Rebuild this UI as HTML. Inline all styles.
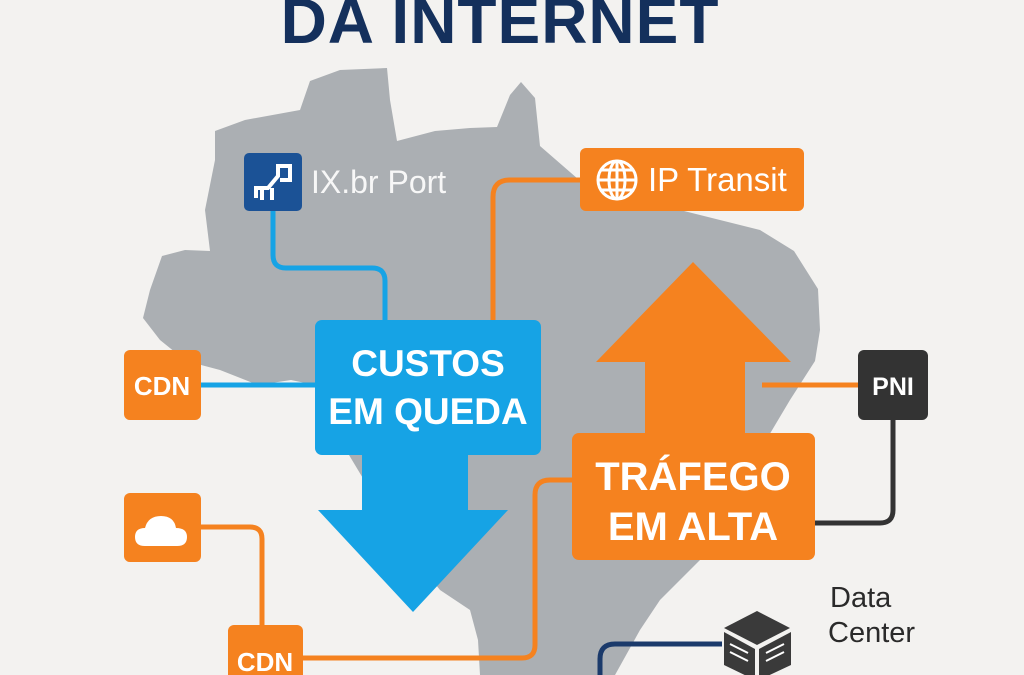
<!DOCTYPE html>
<html><head><meta charset="utf-8"><style>
html,body{margin:0;padding:0;background:#f3f2f0;}
svg{display:block;}
text{font-family:"Liberation Sans",sans-serif;}
</style></head><body>
<svg width="1024" height="675" viewBox="0 0 1024 675" xmlns="http://www.w3.org/2000/svg">
<rect width="1024" height="675" fill="#f3f2f0"/>
<text x="500" y="43" text-anchor="middle" font-size="64" font-weight="bold" fill="#14305c" letter-spacing="1">DA INTERNET</text>
<path d="M310,81 L340,70 L387,68 L390,100 L397,141 L435,131 L470,128 L497,127 L510,95 L521,82 L535,98 L540,146 L578,179 L640,200 L700,215 L760,230 L794,251 L818,289 L820,330 L815,361 L790,400 L765,442 L755,509 L700,560 L660,600 L640,630 L615,675 L480,675 L478,640 L470,610 L440,590 L400,540 L340,440 L315,385 L291,380 L258,385 L220,370 L186,361 L160,340 L143,318 L150,290 L162,256 L185,250 L210,251 L205,210 L215,160 L215,131 L245,120 L300,110 Z" fill="#abafb3"/>
<g fill="none" stroke-width="5">
<path d="M273,211 L273,255 Q273,268 286,268 L372,268 Q385,268 385,281 L385,322" stroke="#16a3e5"/>
<path d="M201,385 L318,385" stroke="#16a3e5"/>
<path d="M580,180 L510,180 Q493,180 493,197 L493,322" stroke="#f5821f"/>
<path d="M201,527 L250,527 Q262,527 262,539 L262,627" stroke="#f5821f"/>
<path d="M303,658 L522,658 Q535,658 535,645 L535,495 Q535,480 550,480 L574,480" stroke="#f5821f"/>
<path d="M762,385 L860,385" stroke="#f5821f"/>
<path d="M893,418 L893,510 Q893,523 880,523 L813,523" stroke="#333"/>
<path d="M722,644 L615,644 Q600,644 600,659 L600,675" stroke="#1b3a6b"/>
</g>
<path d="M362,450 L468,450 L468,510 L508,510 L413,612 L318,510 L362,510 Z" fill="#16a3e5"/>
<rect x="315" y="320" width="226" height="135" rx="7" fill="#16a3e5"/>
<text x="428" y="376" text-anchor="middle" font-size="37" font-weight="bold" fill="#fff">CUSTOS</text>
<text x="428" y="424" text-anchor="middle" font-size="37" font-weight="bold" fill="#fff">EM QUEDA</text>
<path d="M693,262 L791,362 L745,362 L745,440 L645,440 L645,362 L596,362 Z" fill="#f5821f"/>
<rect x="572" y="433" width="243" height="127" rx="7" fill="#f5821f"/>
<text x="693" y="490" text-anchor="middle" font-size="40" font-weight="bold" fill="#fff">TRÁFEGO</text>
<text x="693" y="540" text-anchor="middle" font-size="40" font-weight="bold" fill="#fff">EM ALTA</text>
<rect x="244" y="153" width="58" height="58" rx="5" fill="#1b5296"/>
<path d="M256,198 L256,188 L268,188 L278,176 L278,166 L290,166 L290,180 L280,180 M262,188 L262,200 M272,188 L272,200" fill="none" stroke="#fff" stroke-width="4"/>
<text x="311" y="193" font-size="32" fill="#f7f7f7">IX.br Port</text>
<rect x="580" y="148" width="224" height="63" rx="6" fill="#f5821f"/>
<g fill="none" stroke="#fff" stroke-width="3"><circle cx="617" cy="180" r="19"/><ellipse cx="617" cy="180" rx="8" ry="19"/><line x1="598" y1="180" x2="636" y2="180"/><line x1="601" y1="170" x2="633" y2="170"/><line x1="601" y1="190" x2="633" y2="190"/><line x1="617" y1="161" x2="617" y2="199"/></g>
<text x="648" y="191" font-size="33" fill="#fff">IP Transit</text>
<rect x="124" y="350" width="77" height="70" rx="6" fill="#f5821f"/>
<text x="162" y="395" text-anchor="middle" font-size="26" font-weight="bold" fill="#fff">CDN</text>
<rect x="124" y="493" width="77" height="69" rx="6" fill="#f5821f"/>
<path d="M145,546 Q135,546 135,537 Q135,528 145,528 Q148,516 161,516 Q174,516 176,528 Q187,528 187,537 Q187,546 177,546 Z" fill="#fff"/>
<rect x="228" y="625" width="75" height="60" rx="6" fill="#f5821f"/>
<text x="265" y="671" text-anchor="middle" font-size="26" font-weight="bold" fill="#fff">CDN</text>
<rect x="858" y="350" width="70" height="70" rx="6" fill="#333"/>
<text x="893" y="395" text-anchor="middle" font-size="25" font-weight="bold" fill="#fff">PNI</text>
<text x="830" y="607" font-size="29" fill="#2a2a2a">Data</text>
<text x="828" y="642" font-size="29" fill="#2a2a2a">Center</text>
<path d="M757,611 L790,628 L757,645 L724,628 Z" fill="#3a3a3a"/>
<path d="M724,632 L755,649 L755,680 L724,665 Z" fill="#3a3a3a"/>
<path d="M759,649 L791,632 L791,665 L759,680 Z" fill="#3a3a3a"/>
<g stroke="#fff" stroke-width="2"><line x1="730" y1="644" x2="748" y2="653"/><line x1="730" y1="652" x2="748" y2="661"/><line x1="766" y1="653" x2="784" y2="644"/><line x1="766" y1="661" x2="784" y2="652"/></g>
</svg>
</body></html>
